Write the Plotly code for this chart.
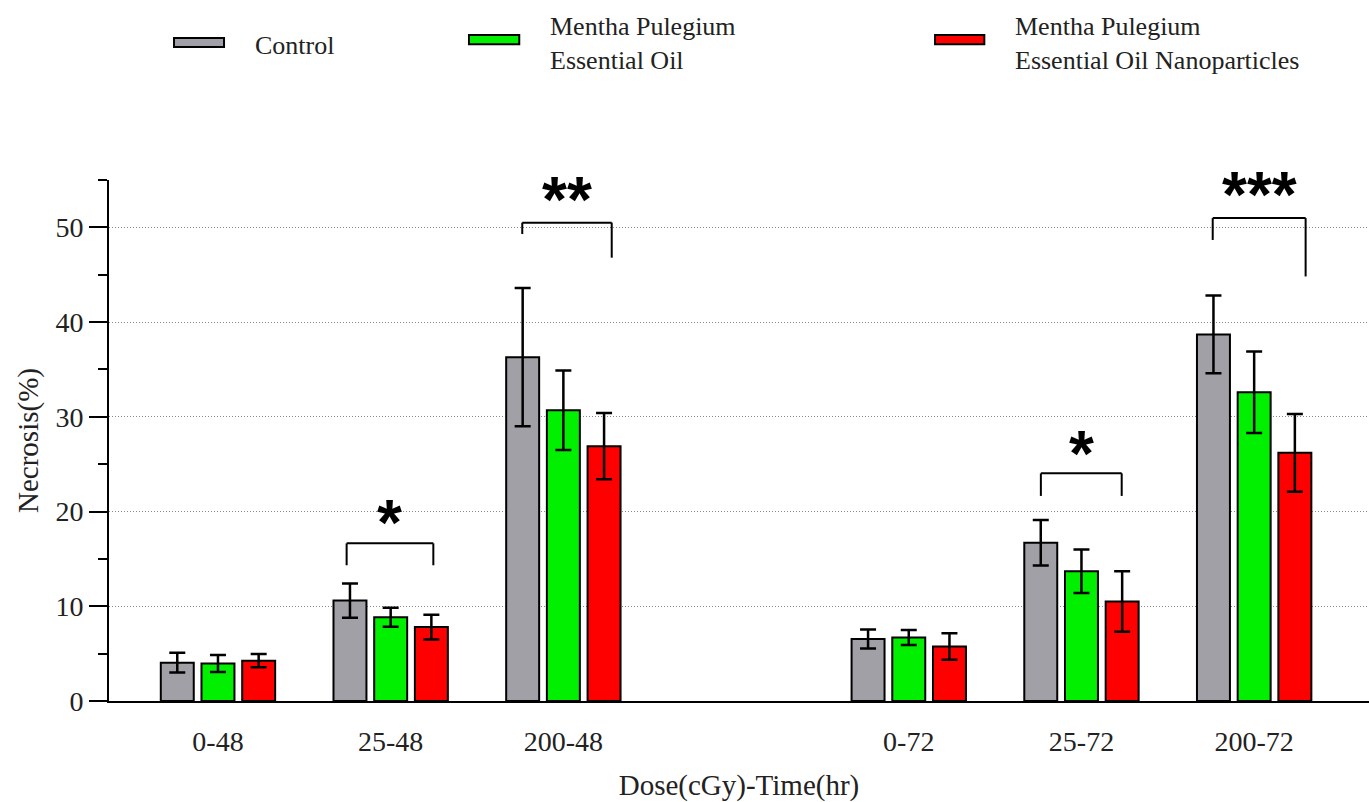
import plotly.graph_objects as go

# ---------------- data ----------------
categories = ["0-48", "25-48", "200-48", " ", "0-72", "25-72", "200-72"]
groups = ["0-48", "25-48", "200-48", "0-72", "25-72", "200-72"]

series_names = ["Control", "Mentha Pulegium<br>Essential Oil", "Mentha Pulegium<br>Essential Oil Nanoparticles"]

control_mean = [4.05, 10.6, 36.3, 6.55, 16.7, 38.7]
control_err = [1.05, 1.8, 7.3, 1.0, 2.4, 4.1]

oil_mean = [3.95, 8.85, 30.7, 6.7, 13.7, 32.6]
oil_err = [0.9, 1.0, 4.2, 0.8, 2.3, 4.3]

nano_mean = [4.25, 7.8, 26.9, 5.75, 10.5, 26.2]
nano_err = [0.7, 1.3, 3.5, 1.4, 3.2, 4.1]

y_ticks = [0, 10, 20, 30, 40, 50]

# significance brackets: (x left, x right, y top, y left foot, y right foot, label, label y)
sig_brackets = [
    (0.745, 1.247, 16.64, 14.33, 14.33, "*", 20.2),
    (1.762, 2.280, 50.5, 49.3, 46.8, "**", 54.3),
    (4.765, 5.233, 24.03, 21.65, 21.65, "*", 27.5),
    (5.760, 6.298, 50.98, 48.67, 44.82, "***", 54.8),
]

colors = ["#a0a0a6", "#00f000", "#ff0000"]
serif = "Liberation Serif, Times New Roman, serif"

fig = go.Figure()
for name, mean, err, col in zip(series_names,
                                [control_mean, oil_mean, nano_mean],
                                [control_err, oil_err, nano_err],
                                colors):
    fig.add_trace(go.Bar(
        x=groups, y=mean, name=name,
        marker=dict(color=col, line=dict(color="black", width=2)),
        error_y=dict(type="data", array=err, visible=True,
                     color="black", thickness=2.5, width=8),
        showlegend=False,
    ))

shapes = []
annotations = []
for xl, xr, yt, yl, yr, lab, ly in sig_brackets:
    line = dict(color="black", width=2)
    shapes.append(dict(type="line", xref="x", yref="y", x0=xl, x1=xr, y0=yt, y1=yt, line=line))
    shapes.append(dict(type="line", xref="x", yref="y", x0=xl, x1=xl, y0=yt, y1=yl, line=line))
    shapes.append(dict(type="line", xref="x", yref="y", x0=xr, x1=xr, y0=yt, y1=yr, line=line))
    annotations.append(dict(
        x=(xl + xr) / 2, y=ly, xref="x", yref="y", text=lab, showarrow=False,
        xanchor="center", yanchor="middle", yshift=-13,
        font=dict(family="Liberation Sans, Arial, sans-serif", size=64, color="black", weight="bold"),
    ))

# manual legend (paper coordinates)
legend_items = [
    (0.0516, 0.0913, 1.2726, 1.2553, colors[0], 0.114, ["Control"], [1.259]),
    (0.2857, 0.3256, 1.2783, 1.2605, colors[1], 0.3487, ["Mentha Pulegium", "Essential Oil"], [1.295, 1.230]),
    (0.6556, 0.6947, 1.2783, 1.2605, colors[2], 0.7173, ["Mentha Pulegium", "Essential Oil Nanoparticles"], [1.295, 1.230]),
]
for x0, x1, y0, y1, col, tx, lines, tys in legend_items:
    shapes.append(dict(type="rect", xref="paper", yref="paper", x0=x0, x1=x1, y0=y1, y1=y0,
                       fillcolor=col, line=dict(color="black", width=2)))
    for t, ty in zip(lines, tys):
        annotations.append(dict(x=tx, y=ty, xref="paper", yref="paper", text=t, showarrow=False,
                                xanchor="left", yanchor="middle",
                                font=dict(family=serif, size=26, color="#222222")))

fig.update_layout(
    width=1369, height=802,
    margin=dict(l=109, r=0, t=180, b=101, autoexpand=False),
    paper_bgcolor="white", plot_bgcolor="white",
    barmode="group", bargap=0.293, bargroupgap=0.19,
    shapes=shapes, annotations=annotations,
    font=dict(family=serif, color="#222222"),
)

fig.update_xaxes(
    type="category", categoryorder="array", categoryarray=categories,
    range=[-0.631, 6.665], automargin=False,
    showline=True, linecolor="black", linewidth=2,
    ticks="", showgrid=False, zeroline=False,
    tickfont=dict(family=serif, size=28, color="#222222"),
    ticklabelstandoff=14,
    title=dict(text="Dose(cGy)-Time(hr)", font=dict(family=serif, size=29, color="#222222"), standoff=20),
)

fig.update_yaxes(
    range=[0, 55], tickvals=y_ticks, automargin=False,
    showline=True, linecolor="black", linewidth=2,
    ticks="outside", ticklen=18, tickwidth=2, tickcolor="black",
    minor=dict(tickvals=[5, 15, 25, 35, 45, 55], ticks="outside", ticklen=9, tickwidth=2, tickcolor="black", showgrid=False),
    showgrid=True, gridcolor="#8a8a8a", gridwidth=1, griddash="1px,2px",
    zeroline=False,
    tickfont=dict(family=serif, size=28, color="#222222"),
    title=dict(text="Necrosis(%)", font=dict(family=serif, size=29, color="#222222"), standoff=8),
)

fig.write_html("out.html", config={"displayModeBar": False},
               post_script="document.body.style.margin='0';document.body.style.overflow='hidden';")
